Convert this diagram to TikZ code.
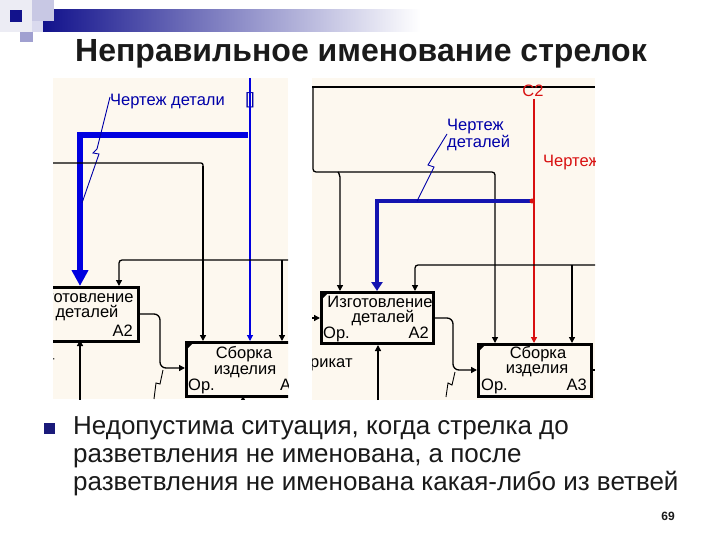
\documentclass[tikz,border=0pt]{standalone}
\usepackage{fontspec}
\setmainfont{Liberation Sans}
\usetikzlibrary{arrows.meta}
\definecolor{cream}{HTML}{FDF8EF}
\definecolor{navy}{HTML}{12128C}
\definecolor{bblue}{HTML}{0000E0}
\definecolor{dblue}{HTML}{1414B0}
\definecolor{tblue}{HTML}{0000A8}
\definecolor{rred}{HTML}{D81010}
\definecolor{ink}{HTML}{1A1A1A}
\definecolor{decoA}{HTML}{ECECF4}
\definecolor{decoB}{HTML}{C8C8E4}
\definecolor{decoC}{HTML}{DADAEE}
\definecolor{decoD}{HTML}{A0A0D0}
\definecolor{bul}{HTML}{1A1A7A}
\tikzset{
  arr/.style={-{Triangle[length=6pt,width=6pt]}},
  ln/.style={line width=1.3pt, black},
  box/.style={draw=black, line width=3pt, fill=cream, inner sep=0pt},
  scr/.style={font=\fontsize{16.5}{16.5}\selectfont, inner sep=0pt},
  corner/.style={fill=black},
}
\begin{document}
\begin{tikzpicture}[x=1pt,y=-1pt]
\useasboundingbox (0,0) rectangle (720,540);
\fill[white] (0,0) rectangle (720,540);
% corner decoration
\fill[decoA] (0,0) rectangle (32,32);
\shade[left color=navy, right color=white] (43,10) rectangle (420,32);
\fill[decoB] (32,0) rectangle (54,21);
\fill[decoC] (32,21) rectangle (43,32);
\fill[navy] (10,10) rectangle (22,22);
\fill[decoD] (20,32) rectangle (33,42);
% title
\node[anchor=base, font=\fontsize{32}{36}\bfseries\selectfont, text=ink, inner sep=0pt] (title) at (361,62) {Неправильное именование стрелок};

% ===== left screenshot =====
\begin{scope}
\clip (53,78) rectangle (288,399);
\fill[cream] (53,78) rectangle (288,399);
\node[scr, text=tblue, anchor=base west] (lblL) at (110,106) {Чертеж детали};
\node[scr, text=tblue, anchor=base] (brL) at (250,105) {[]};
\draw[line width=1.2pt, bblue, arr] (250,78) -- (250,341);
\draw[line width=6pt, bblue, -{Triangle[length=16pt,width=16pt]}] (248,135) -- (80,135) -- (80,286);
\draw[line width=0.9pt, tblue] (110,97) -- (97,149) -- (93,153) -- (99,154) -- (82,203);
\draw[ln, rounded corners=2] (53,163) -- (203,163) -- (203,200);
\draw[line width=2pt, arr] (203,166) -- (203,341);
\draw[ln, rounded corners=3, arr] (288,260) -- (119,260) -- (119,286);
\draw[ln, arr] (282,260) -- (282,341);
\node[box, minimum width=112pt, minimum height=54pt, anchor=north west] (izL) at (25,286) {};
\node[scr, anchor=base] (izL1) at (81,302) {Изготовление};
\node[scr, anchor=base] (izL2) at (87,317) {деталей};
\node[scr, anchor=base east] (izL3) at (133,336) {A2};
\draw[ln, rounded corners=6, arr] (izL.east |- 0,314) -- (160,314) -- (160,368) -- (185,368);
\draw[line width=0.9pt] (163,370) -- (160,384) -- (156,383) -- (154,399);
\node[box, minimum width=120pt, minimum height=54pt, anchor=north west] (sbL) at (185,341) {};
\fill[corner] (187,343) -- (193,343) -- (187,349) -- cycle;
\node[scr, anchor=base] (sbL1) at (244,358) {Сборка};
\node[scr, anchor=base] (sbL2) at (245,374) {изделия};
\node[scr, anchor=base west] (sbL3) at (188,390) {Ор.};
\node[scr, anchor=base west] (sbL4) at (280,390) {A3};
\draw[ln, arr] (243,402) -- (243,396);
\draw[ln, arr] (80,400) -- (80,340);
\node[scr, anchor=base west] (rkL) at (12,367) {рикат};
\end{scope}

% ===== right screenshot =====
\begin{scope}
\clip (312,78) rectangle (595,400);
\fill[cream] (312,78) rectangle (595,400);
\draw[ln] (312,87) -- (595,87);
\draw[ln, rounded corners=3, arr] (313,88) -- (313,172) -- (495,172) -- (495,343);
\draw[ln, rounded corners=2, arr] (338,172) -- (340,175) -- (340,291);
\node[scr, text=rred, anchor=base] (c2) at (533,97) {С2};
\draw[line width=1.3pt, rred, arr] (534,99) -- (534,343);
\node[scr, text=rred, anchor=base west] (chR) at (543,167) {Чертеж};
\draw[line width=3.5pt, dblue, -{Triangle[length=9pt,width=11pt]}] (532,201) -- (377,201) -- (377,291);
\fill[rred] (532,201) circle (2.5);
\node[scr, text=tblue, anchor=base west] (lblR1) at (447,131) {Чертеж};
\node[scr, text=tblue, anchor=base west] (lblR2) at (447,148) {деталей};
\draw[line width=0.9pt, tblue] (447,134) -- (428,165) -- (434,167) -- (417,201);
\draw[ln, rounded corners=3, arr] (595,265) -- (415,265) -- (415,291);
\draw[ln, arr] (572,265) -- (572,343);
\node[box, minimum width=112pt, minimum height=51pt, anchor=north west] (izR) at (320,291) {};
\fill[corner] (322,293) -- (328,293) -- (322,299) -- cycle;
\node[scr, anchor=base] (izR1) at (380,307) {Изготовление};
\node[scr, anchor=base] (izR2) at (383,322) {деталей};
\node[scr, anchor=base west] (izR3) at (323,338) {Ор.};
\node[scr, anchor=base east] (izR4) at (429,338) {A2};
\draw[ln, arr] (312,318) -- (izR.west |- 0,318);
\draw[ln, rounded corners=6, arr] (izR.east |- 0,318) -- (453,318) -- (453,370) -- (477,370);
\draw[line width=0.9pt] (455,372) -- (452,385) -- (448,383) -- (446,397);
\node[box, minimum width=113pt, minimum height=52pt, anchor=north west] (sbR) at (477,343) {};
\fill[corner] (479,345) -- (485,345) -- (479,351) -- cycle;
\node[scr, anchor=base] (sbR1) at (538,358) {Сборка};
\node[scr, anchor=base] (sbR2) at (537,373) {изделия};
\node[scr, anchor=base west] (sbR3) at (481,390) {Ор.};
\node[scr, anchor=base east] (sbR4) at (587,390) {A3};
\draw[ln] (sbR.east |- 0,370) -- (595,370);
\node[scr, anchor=base west] (rkR) at (310,367) {рикат};
\draw[ln, arr] (378,400) -- (izR.south -| 378,0);
\end{scope}

% bullet text
\fill[bul] (44,423) rectangle (55,434);
\begin{scope}[every node/.style={anchor=base west, inner sep=0pt, font=\fontsize{26}{28}\selectfont, text=ink}]
\node (b1) at (73,434) {Недопустима ситуация, когда стрелка до};
\node (b2) at (73,462) {разветвления не именована, а после};
\node (b3) at (73,490) {разветвления не именована какая-либо из ветвей};
\end{scope}
\node[anchor=base, inner sep=0pt, font=\fontsize{12}{12}\bfseries\selectfont, text=ink] (pg) at (668,520) {69};
\end{tikzpicture}
\end{document}
